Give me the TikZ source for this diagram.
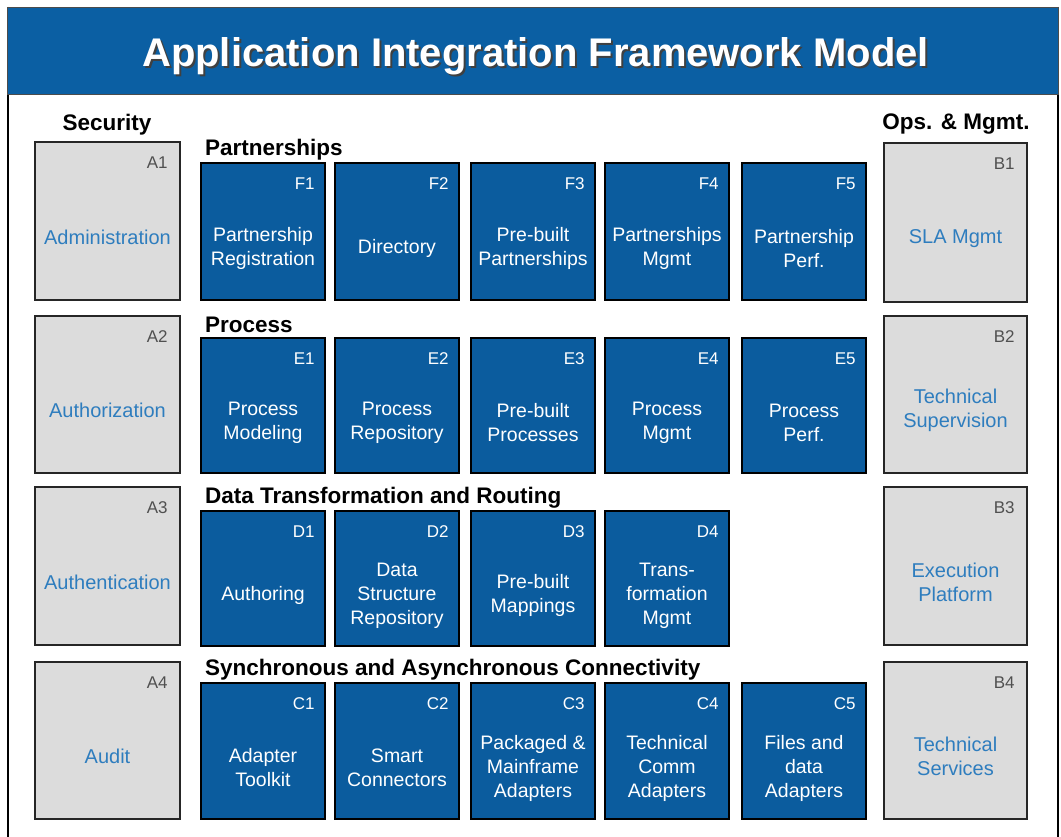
\documentclass[tikz,border=0pt]{standalone}
\usepackage{fontspec}
\setmainfont{Liberation Sans}
\definecolor{hdrblue}{HTML}{0B5FA3}
\definecolor{boxblue}{HTML}{0B5C9E}
\definecolor{boxgray}{HTML}{DCDCDC}
\definecolor{gtext}{HTML}{2E7DBE}
\definecolor{gid}{HTML}{505050}
\tikzset{
  bbox/.style={draw=black, line width=1.6pt, fill=boxblue, inner sep=0pt},
  gbox/.style={draw=black!85, line width=1.6pt, fill=boxgray, inner sep=0pt},
  bid/.style={text=white, font=\fontsize{17}{19}\selectfont, inner sep=0pt},
  gidst/.style={text=gid, font=\fontsize{17}{19}\selectfont, inner sep=0pt},
  btxt/.style={text=white, align=center, font=\fontsize{19.5}{24}\selectfont, inner sep=0pt},
  gtxt/.style={text=gtext, align=center, font=\fontsize{20}{24}\selectfont, inner sep=0pt},
  sect/.style={font=\bfseries\fontsize{22.5}{25}\selectfont, inner sep=0pt},
}
\newcommand\BlueBox[7]{%
  \node[bbox, minimum width={(#4-#2)*1pt}, minimum height={(#5-#3)*1pt}] (#1) at ({(#2+#4)/2},{(#3+#5)/2}) {};
  \node[bid, anchor=base east] (#1-id) at ([xshift=-11pt,yshift=-27pt]#1.north east) {#6};
  \node[btxt] (#1-txt) at ([yshift=-17pt]#1.center) {#7};
}
\newcommand\GrayBox[7]{%
  \node[gbox, minimum width={(#4-#2)*1pt}, minimum height={(#5-#3)*1pt}] (#1) at ({(#2+#4)/2},{(#3+#5)/2}) {};
  \node[gidst, anchor=base east] (#1-id) at ([xshift=-13pt,yshift=-27pt]#1.north east) {#6};
  \node[gtxt] (#1-txt) at ([yshift=-16pt]#1.center) {#7};
}
\begin{document}
\begin{tikzpicture}[x=1pt,y=-1pt]
\useasboundingbox (0,0) rectangle (1061,837);
\fill[white] (0,0) rectangle (1061,837);
% outer frame
\draw[line width=2pt, black] (8,7) -- (8,837);
\draw[line width=2pt, black] (1058,7) -- (1058,837);
% header
\node[fill=hdrblue, draw=black!70, line width=0.8pt, minimum width=1051pt, minimum height=87pt, inner sep=0pt] (hdr) at (532.5,50.5) {};
\node[anchor=base, text=black!75, font=\bfseries\fontsize{40}{44}\selectfont, inner sep=0pt] (ttlshadow) at (537.5,69) {Application Integration Framework Model};
\node[anchor=base, text=white, font=\bfseries\fontsize{40}{44}\selectfont, inner sep=0pt] (ttl) at (535.5,67) {Application Integration Framework Model};
% column headers
\node[sect, anchor=base] (sec) at (107,131) {Security};
\node[sect, anchor=base] (ops) at (956,130) {Ops. \& Mgmt.};
% section headers
\node[sect, anchor=base west] (hF) at (205,156) {Partnerships};
\node[sect, anchor=base west] (hE) at (205,332) {Process};
\node[sect, anchor=base west] (hD) at (205,503) {Data Transformation and Routing};
\node[sect, anchor=base west] (hC) at (205,675) {Synchronous and Asynchronous Connectivity};
% security column
\GrayBox{A1}{35}{142}{180}{300}{A1}{Administration}
\GrayBox{A2}{35}{316}{180}{473}{A2}{Authorization}
\GrayBox{A3}{35}{487}{180}{645}{A3}{Authentication}
\GrayBox{A4}{35}{662}{180}{819}{A4}{Audit}
% ops column
\GrayBox{B1}{884}{143}{1027}{302}{B1}{SLA Mgmt}
\GrayBox{B2}{884}{316}{1027}{473}{B2}{Technical\\Supervision}
\GrayBox{B3}{884}{487}{1027}{645}{B3}{Execution\\Platform}
\GrayBox{B4}{884}{662}{1027}{819}{B4}{Technical\\Services}
% partnerships
\BlueBox{F1}{201}{163}{325}{300}{F1}{Partnership\\Registration}
\BlueBox{F2}{335}{163}{459}{300}{F2}{Directory}
\BlueBox{F3}{471}{163}{595}{300}{F3}{Pre-built\\Partnerships}
\BlueBox{F4}{605}{163}{729}{300}{F4}{Partnerships\\Mgmt}
\BlueBox{F5}{742}{163}{866}{300}{F5}{Partnership\\Perf.}
% process
\BlueBox{E1}{201}{338}{325}{473}{E1}{Process\\Modeling}
\BlueBox{E2}{335}{338}{459}{473}{E2}{Process\\Repository}
\BlueBox{E3}{471}{338}{595}{473}{E3}{Pre-built\\Processes}
\BlueBox{E4}{605}{338}{729}{473}{E4}{Process\\Mgmt}
\BlueBox{E5}{742}{338}{866}{473}{E5}{Process\\Perf.}
% data transformation
\BlueBox{D1}{201}{511}{325}{646}{D1}{Authoring}
\BlueBox{D2}{335}{511}{459}{646}{D2}{Data\\Structure\\Repository}
\BlueBox{D3}{471}{511}{595}{646}{D3}{Pre-built\\Mappings}
\BlueBox{D4}{605}{511}{729}{646}{D4}{Trans-\\formation\\Mgmt}
% connectivity
\BlueBox{C1}{201}{683}{325}{819}{C1}{Adapter\\Toolkit}
\BlueBox{C2}{335}{683}{459}{819}{C2}{Smart\\Connectors}
\BlueBox{C3}{471}{683}{595}{819}{C3}{Packaged \&\\Mainframe\\Adapters}
\BlueBox{C4}{605}{683}{729}{819}{C4}{Technical\\Comm\\Adapters}
\BlueBox{C5}{742}{683}{866}{819}{C5}{Files and\\data\\Adapters}
\end{tikzpicture}
\end{document}
